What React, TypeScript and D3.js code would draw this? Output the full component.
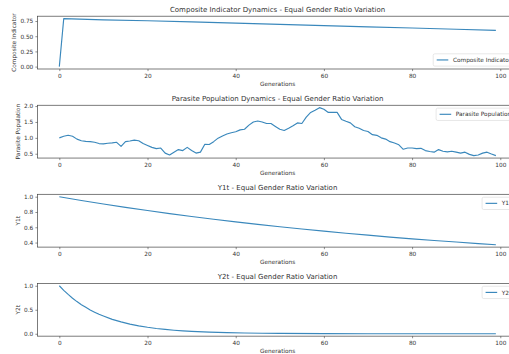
import React, { useEffect, useRef } from "react";
import * as d3 from "d3";

const W = 509;
const H = 354;

const xTicks = [0, 20, 40, 60, 80, 100];

const compositeGenerations = [0, 1, 10, 20, 30, 40, 50, 60, 70, 80, 90, 99];
const compositeValues = [0, 0.79, 0.77, 0.755, 0.735, 0.715, 0.695, 0.675, 0.655, 0.635, 0.615, 0.595];

const parasiteValues = [
  1.0, 1.05, 1.08, 1.05, 0.96, 0.91, 0.89, 0.88, 0.86, 0.82,
  0.81, 0.83, 0.84, 0.86, 0.73, 0.88, 0.9, 0.93, 0.91, 0.82,
  0.76, 0.7, 0.66, 0.68, 0.52, 0.46, 0.55, 0.63, 0.6, 0.7,
  0.6, 0.52, 0.55, 0.8, 0.79, 0.88, 0.99, 1.06, 1.12, 1.16,
  1.19, 1.25, 1.27, 1.4, 1.5, 1.53, 1.5, 1.45, 1.45, 1.36,
  1.27, 1.23, 1.3, 1.38, 1.47, 1.45, 1.65, 1.8, 1.87, 1.95,
  1.9, 1.8, 1.8, 1.8, 1.58, 1.52, 1.47, 1.35, 1.3, 1.23,
  1.2, 1.1, 1.08, 1.0, 0.96, 0.88, 0.84, 0.78, 0.64, 0.68,
  0.68, 0.66, 0.67, 0.6, 0.57, 0.55, 0.63, 0.58, 0.56, 0.58,
  0.55, 0.52, 0.55, 0.48, 0.44, 0.46, 0.52, 0.55, 0.49, 0.44,
];
const parasiteGenerations = parasiteValues.map((_, i) => i);

const y1Generations = [0, 5, 10, 15, 20, 25, 30, 35, 40, 45, 50, 55, 60, 65, 70, 75, 80, 85, 90, 95, 99];
const y1Values = [1.0, 0.951, 0.905, 0.861, 0.819, 0.779, 0.741, 0.705, 0.67, 0.638, 0.607, 0.577, 0.549, 0.522, 0.497, 0.472, 0.449, 0.427, 0.407, 0.387, 0.372];

const y2Generations = [0, 1, 2, 3, 4, 5, 6, 7, 8, 9, 10, 12, 14, 16, 18, 20, 22, 24, 26, 28, 30, 34, 38, 42, 46, 50, 60, 70, 80, 90, 99];
const y2Values = [1.0, 0.905, 0.82, 0.74, 0.67, 0.605, 0.55, 0.495, 0.45, 0.405, 0.37, 0.3, 0.247, 0.2, 0.165, 0.135, 0.11, 0.09, 0.074, 0.061, 0.05, 0.033, 0.022, 0.015, 0.01, 0.007, 0.0025, 0.001, 0.0003, 0.0001, 0.0];

const titles = [
  "Composite Indicator Dynamics - Equal Gender Ratio Variation",
  "Parasite Population Dynamics - Equal Gender Ratio Variation",
  "Y1t - Equal Gender Ratio Variation",
  "Y2t - Equal Gender Ratio Variation",
];
const yLabels = ["Composite Indicator", "Parasite Population", "Y1t", "Y2t"];
const yTicksList = [
  [0, 0.25, 0.5, 0.75],
  [0.5, 1.0, 1.5, 2.0],
  [0.4, 0.6, 0.8, 1.0],
  [0.0, 0.5, 1.0],
];
const yFormats = [".2f", ".1f", ".1f", ".1f"];
const legendPos = ["lower", "upper", "upper", "upper"];

const seriesGens = [compositeGenerations, parasiteGenerations, y1Generations, y2Generations];
const seriesVals = [compositeValues, parasiteValues, y1Values, y2Values];

const FONT = "DejaVu Sans, sans-serif";
const LINE = "#3a88bc";
const TXT = "#333";
const SPINE = "#444";

export default function App() {
  const ref = useRef<SVGSVGElement | null>(null);

  useEffect(() => {
    const svg = d3.select(ref.current);
    svg.selectAll("*").remove();
    const left = 37.5;
    const right = 517.7;
    const x = d3.scaleLinear().domain([-4.95, 103.95]).range([left, right]);

    seriesVals.forEach((vals, i) => {
      const gens = seriesGens[i];
      const top = 16.2 + i * 89.05;
      const bottom = top + 52.8;
      const [mn, mx] = d3.extent(vals) as [number, number];
      const pad = (mx - mn) * 0.05;
      const y = d3.scaleLinear().domain([mn - pad, mx + pad]).range([bottom, top]);
      const g = svg.append("g");

      const clipId = `clip${i}`;
      g.append("clipPath").attr("id", clipId).append("rect")
        .attr("x", left).attr("y", top).attr("width", right - left).attr("height", bottom - top);

      const pts = gens.map((t, k) => [t, vals[k]] as [number, number]);
      g.append("path")
        .datum(pts)
        .attr("clip-path", `url(#${clipId})`)
        .attr("fill", "none")
        .attr("stroke", LINE)
        .attr("stroke-width", 1.15)
        .attr("stroke-linejoin", "round")
        .attr("d", d3.line<[number, number]>().x((d) => x(d[0])).y((d) => y(d[1])));

      g.append("rect")
        .attr("x", left).attr("y", top).attr("width", right - left).attr("height", bottom - top)
        .attr("fill", "none").attr("stroke", SPINE).attr("stroke-width", 0.7);

      const xa = g.append("g")
        .attr("transform", `translate(0,${bottom})`)
        .call(d3.axisBottom(x).tickValues(xTicks).tickSize(2.1).tickPadding(2.3).tickFormat(d3.format("d")));
      xa.select(".domain").remove();
      xa.selectAll("line").attr("stroke", SPINE).attr("stroke-width", 0.6);
      xa.selectAll("text").attr("fill", TXT).attr("font-family", FONT).attr("font-size", 5.8);

      const ya = g.append("g")
        .attr("transform", `translate(${left},0)`)
        .call(d3.axisLeft(y).tickValues(yTicksList[i]).tickSize(2.1).tickPadding(2.1).tickFormat(d3.format(yFormats[i])));
      ya.select(".domain").remove();
      ya.selectAll("line").attr("stroke", SPINE).attr("stroke-width", 0.6);
      ya.selectAll("text").attr("fill", TXT).attr("font-family", FONT).attr("font-size", 5.8);

      let maxW = 0;
      ya.selectAll<SVGTextElement, unknown>("text").each(function () {
        maxW = Math.max(maxW, this.getBBox().width);
      });

      const labelLeft = left - 4.2 - maxW;
      const yl = labelLeft - 3.8;
      g.append("text")
        .attr("transform", `translate(${yl},${(top + bottom) / 2}) rotate(-90)`)
        .attr("text-anchor", "middle")
        .attr("font-family", FONT).attr("font-size", 5.8).attr("fill", TXT)
        .text(yLabels[i]);

      g.append("text")
        .attr("x", (left + right) / 2).attr("y", bottom + 17.3)
        .attr("text-anchor", "middle")
        .attr("font-family", FONT).attr("font-size", 5.8).attr("fill", TXT)
        .text("Generations");

      g.append("text")
        .attr("x", (left + right) / 2).attr("y", top - 4.6)
        .attr("text-anchor", "middle")
        .attr("font-family", FONT).attr("font-size", 7).attr("fill", TXT)
        .text(titles[i]);

      const lg = g.append("g");
      const box = lg.append("rect");
      const lt = lg.append("text")
        .attr("font-family", FONT).attr("font-size", 5.8).attr("fill", TXT)
        .text(yLabels[i]);
      const tw = (lt.node() as SVGTextElement).getComputedTextLength();
      const bw = 3.5 + 11.6 + 4.6 + tw + 3.5;
      const bh = 12.3;
      const bRight = right - 2.9;
      const bLeft = bRight - bw;
      const bTop = legendPos[i] === "upper" ? top + 2.9 : bottom - 2.9 - bh;
      box.attr("x", bLeft).attr("y", bTop).attr("width", bw).attr("height", bh)
        .attr("rx", 1.6).attr("fill", "white").attr("fill-opacity", 0.8)
        .attr("stroke", "#d6d6d6").attr("stroke-width", 0.6);
      const cy = bTop + bh / 2;
      lg.append("line")
        .attr("x1", bLeft + 3.5).attr("x2", bLeft + 15.1)
        .attr("y1", cy).attr("y2", cy)
        .attr("stroke", LINE).attr("stroke-width", 1.15);
      lt.attr("x", bLeft + 19.7).attr("y", cy + 2.1);
    });
  }, []);

  return (
    <div style={{ position: "fixed", left: 0, top: 0, width: W, height: H, background: "white" }}>
      <svg ref={ref} width={W} height={H} style={{ display: "block" }} />
    </div>
  );
}
